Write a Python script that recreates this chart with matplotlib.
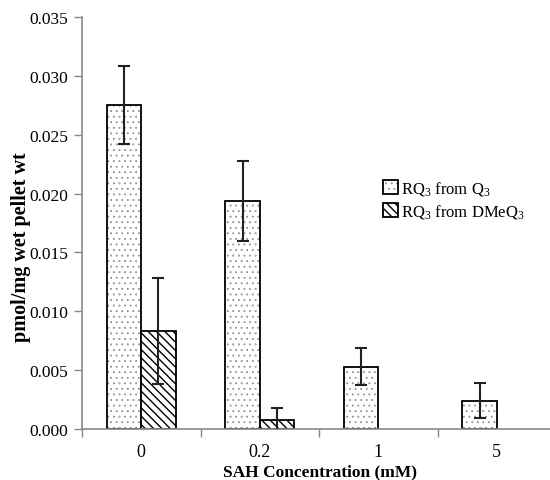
import matplotlib
matplotlib.use("Agg")
import matplotlib.pyplot as plt
import matplotlib.hatch as mhatch
import numpy as np

plt.rcParams['font.family'] = ['Liberation Serif', 'DejaVu Serif']
plt.rcParams['mathtext.fontset'] = 'custom'
plt.rcParams['mathtext.rm'] = 'Liberation Serif'
plt.rcParams['mathtext.it'] = 'Liberation Serif:italic'
plt.rcParams['mathtext.bf'] = 'Liberation Serif:bold'
plt.rcParams['hatch.linewidth'] = 1.0
mhatch.SmallFilledCircles.size = 0.026

categories = ["0", "0.2", "1", "5"]
q3_values = [0.0275, 0.0194, 0.0053, 0.0024]
q3_errors = [0.0033, 0.0034, 0.0016, 0.0015]
dmeq3_values = [0.0083, 0.0008, 0.0, 0.0]
dmeq3_errors = [0.0045, 0.0010, 0.0, 0.0]
yticks = [0.000, 0.005, 0.010, 0.015, 0.020, 0.025, 0.030, 0.035]

fig = plt.figure(figsize=(5.5, 4.81), dpi=100)
ax = fig.add_axes([82/550, 1-430/481, 474/550, (430-18)/481])

x = np.arange(len(categories))
w = 0.29
ax.bar(x - w/2, q3_values, w, color='white', edgecolor='black', hatch='...',
       linewidth=1.3, label='RQ$_3$ from Q$_3$', zorder=2)
dm_idx = [i for i, v in enumerate(dmeq3_values) if v > 0]
ax.bar(x[dm_idx] + w/2, [dmeq3_values[i] for i in dm_idx], w, color='white',
       edgecolor='black', hatch='\\\\\\\\', linewidth=1.3,
       label='RQ$_3$ from DMeQ$_3$', zorder=2)
ax.errorbar(x - w/2, q3_values, yerr=q3_errors, fmt='none', ecolor='#222222',
            elinewidth=1.5, capsize=4, capthick=1.5, zorder=3)
ax.errorbar(x[dm_idx] + w/2, [dmeq3_values[i] for i in dm_idx],
            yerr=[dmeq3_errors[i] for i in dm_idx], fmt='none', ecolor='#222222',
            elinewidth=1.5, capsize=4, capthick=1.5, zorder=3)

ax.set_xlim(-0.5, len(categories) - 0.5)
ax.set_ylim(0, 0.035)
ax.set_yticks(yticks)
ax.set_yticklabels([f"{v:.3f}" for v in yticks], fontsize=12.5)
ax.set_xticks(x)
ax.set_xticklabels(categories, fontsize=13)
ax.tick_params(axis='x', length=0, pad=10)
ax.set_xticks(np.arange(-0.5, len(categories) + 0.5, 1), minor=True)
ax.tick_params(axis='x', which='minor', length=6, color='#888888', width=1)
ax.tick_params(axis='y', length=6, color='#888888', width=1, pad=4)

for s in ['top', 'right']:
    ax.spines[s].set_visible(False)
for s in ['left', 'bottom']:
    ax.spines[s].set_color('#888888')
    ax.spines[s].set_linewidth(1.2)

ax.set_xlabel('SAH Concentration (mM)', fontsize=12.5, fontweight='bold')
ax.xaxis.set_label_coords(0.502, -0.083)
ax.set_ylabel('pmol/mg wet pellet wt', fontsize=14.5, fontweight='bold')
ax.yaxis.set_label_coords(-0.108, 0.444)

leg = ax.legend(loc='upper left', bbox_to_anchor=(0.62, 0.623), frameon=False,
                fontsize=12, handlelength=0.9, handleheight=0.9,
                handletextpad=0.2, labelspacing=0.3, borderaxespad=0)

fig.savefig('out.png', dpi=100)
